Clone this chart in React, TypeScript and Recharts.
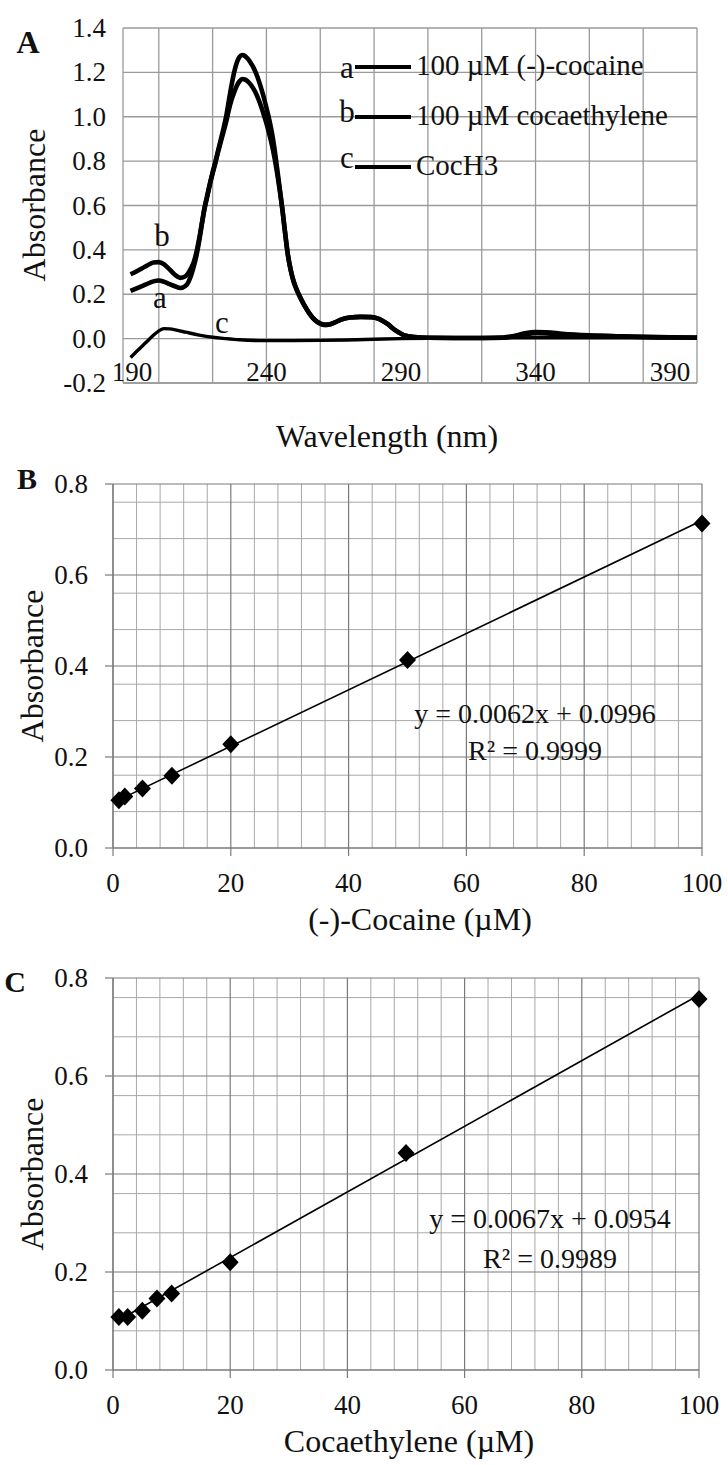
import React from 'react';
import { ComposedChart, LineChart, Line, XAxis, YAxis, CartesianGrid } from 'recharts';

const FONT = '"Liberation Serif", "Times New Roman", serif';
const INK = '#111';

// ---------- Panel A : UV spectra ----------
const wavelengthsAB = [189.5, 192, 195, 198, 200, 202, 204, 206, 208, 210, 212, 213, 214, 215, 216, 217, 218, 219, 220, 221, 222, 223, 224, 225, 226, 227, 228, 229, 230, 231, 232, 233, 234, 235, 236, 237, 238, 239, 240, 241, 242, 243, 244, 245, 246, 247, 248, 249, 250, 251, 252, 254, 256, 258, 260, 262, 264, 266, 268, 271, 275, 279, 282, 285, 288, 291, 295, 300, 310, 320, 328, 332, 336, 340, 344, 350, 360, 370, 380, 390, 400];
const absCocaine = [0.215, 0.228, 0.243, 0.258, 0.262, 0.256, 0.246, 0.236, 0.228, 0.238, 0.285, 0.325, 0.375, 0.44, 0.515, 0.585, 0.64, 0.695, 0.745, 0.79, 0.84, 0.885, 0.93, 0.975, 1.03, 1.075, 1.11, 1.14, 1.16, 1.17, 1.168, 1.16, 1.147, 1.13, 1.108, 1.08, 1.047, 1.01, 0.97, 0.925, 0.875, 0.815, 0.745, 0.665, 0.575, 0.47, 0.375, 0.31, 0.262, 0.228, 0.2, 0.152, 0.113, 0.084, 0.068, 0.062, 0.066, 0.076, 0.087, 0.095, 0.098, 0.097, 0.088, 0.066, 0.037, 0.016, 0.007, 0.004, 0.003, 0.003, 0.004, 0.01, 0.019, 0.024, 0.023, 0.018, 0.013, 0.01, 0.007, 0.005, 0.004];
const absCocaethylene = [0.29, 0.305, 0.325, 0.343, 0.345, 0.335, 0.312, 0.288, 0.274, 0.282, 0.318, 0.345, 0.39, 0.45, 0.52, 0.59, 0.645, 0.7, 0.75, 0.795, 0.845, 0.895, 0.945, 1.0, 1.07, 1.14, 1.2, 1.245, 1.27, 1.278, 1.274, 1.262, 1.246, 1.226, 1.2, 1.168, 1.13, 1.088, 1.04, 0.99, 0.93, 0.855, 0.765, 0.67, 0.575, 0.47, 0.375, 0.31, 0.262, 0.228, 0.2, 0.152, 0.113, 0.084, 0.068, 0.062, 0.066, 0.076, 0.087, 0.095, 0.098, 0.097, 0.088, 0.066, 0.037, 0.016, 0.007, 0.004, 0.003, 0.003, 0.005, 0.012, 0.024, 0.03, 0.029, 0.022, 0.015, 0.011, 0.008, 0.006, 0.005];
const wavelengthsCocH3 = [189.5, 192, 195, 198, 200, 202, 204, 207, 210, 215, 220, 225, 230, 240, 250, 260, 270, 280, 290, 300, 320, 340, 360, 380, 400];
const absCocH3 = [-0.085, -0.055, -0.02, 0.015, 0.035, 0.045, 0.044, 0.037, 0.029, 0.016, 0.006, 0.0, -0.005, -0.009, -0.009, -0.008, -0.006, -0.003, 0.0, 0.002, 0.003, 0.004, 0.004, 0.004, 0.004];
const aXTicks = [190, 240, 290, 340, 390];
const aYTicks = [-0.2, 0, 0.2, 0.4, 0.6, 0.8, 1.0, 1.2, 1.4];
const aGridX = [200, 210, 220, 230, 240, 250, 260, 270, 280, 290, 300, 310, 320, 330, 340, 350, 360, 370, 380, 390, 400];
const legendLabels = ['100 \u00b5M (-)-cocaine', '100 \u00b5M cocaethylene', 'CocH3'];
const legendLetters = ['a', 'b', 'c'];

// ---------- Panel B : (-)-cocaine calibration ----------
const cocaineConc = [1, 2, 5, 10, 20, 50, 100];
const cocaineAbs = [0.105, 0.113, 0.131, 0.159, 0.228, 0.413, 0.713];
const cocaineSlope = 0.0062;
const cocaineIntercept = 0.0996;

// ---------- Panel C : cocaethylene calibration ----------
const cocaethyleneConc = [1, 2.5, 5, 7.5, 10, 20, 50, 100];
const cocaethyleneAbs = [0.108, 0.108, 0.121, 0.146, 0.156, 0.22, 0.443, 0.757];
const cocaethyleneSlope = 0.0067;
const cocaethyleneIntercept = 0.0954;

// shared calibration axes
const calXTicks = [0, 20, 40, 60, 80, 100];
const calXMinor = [4, 8, 12, 16, 24, 28, 32, 36, 44, 48, 52, 56, 64, 68, 72, 76, 84, 88, 92, 96];
const calYTicks = [0, 0.2, 0.4, 0.6, 0.8];
const calYMinor = [0.04, 0.08, 0.12, 0.16, 0.24, 0.28, 0.32, 0.36, 0.44, 0.48, 0.52, 0.56, 0.64, 0.68, 0.72, 0.76];

const toPoints = (xs: number[], ys: number[]) => xs.map((x, i) => ({ x, y: ys[i] }));
const trend = (xs: number[], m: number, b: number) => {
  const lo = xs[0];
  const hi = xs[xs.length - 1];
  return [{ x: lo, y: m * lo + b }, { x: hi, y: m * hi + b }];
};

const seriesCocaine = toPoints(wavelengthsAB, absCocaine);
const seriesCocaethylene = toPoints(wavelengthsAB, absCocaethylene);
const seriesCocH3 = toPoints(wavelengthsCocH3, absCocH3);

const ptsB = toPoints(cocaineConc, cocaineAbs);
const trendB = trend(cocaineConc, cocaineSlope, cocaineIntercept);
const ptsC = toPoints(cocaethyleneConc, cocaethyleneAbs);
const trendC = trend(cocaethyleneConc, cocaethyleneSlope, cocaethyleneIntercept);

const TICK_FS = 27;

const XTickA = (props: any) => {
  const { x, y, payload } = props;
  return (
    <text x={x} y={y - 2} textAnchor="middle" fontFamily={FONT} fontSize={TICK_FS} fill={INK}>
      {payload.value}
    </text>
  );
};
const YTick = (props: any) => {
  const { x, y, payload } = props;
  return (
    <text x={x} y={y + 9} textAnchor="end" fontFamily={FONT} fontSize={TICK_FS} fill={INK}>
      {Number(payload.value).toFixed(1)}
    </text>
  );
};
const XTickCal = (props: any) => {
  const { x, y, payload } = props;
  return (
    <text x={x} y={y + 19} textAnchor="middle" fontFamily={FONT} fontSize={TICK_FS} fill={INK}>
      {payload.value}
    </text>
  );
};

const Diamond = (props: any) => {
  const { cx, cy } = props;
  if (cx == null || cy == null) return null;
  return <path d={`M${cx},${cy - 9} L${cx + 8.5},${cy} L${cx},${cy + 9} L${cx - 8.5},${cy} Z`} fill="#000" />;
};

const CalChart = ({ top, height, marginTop, marginRight, xAxisHeight, pts, tr }: any) => (
  <div style={{ position: 'absolute', left: 0, top }}>
    <ComposedChart width={728} height={height} margin={{ top: marginTop, right: marginRight, left: 0, bottom: 0 }}>
      <CartesianGrid horizontalValues={calYMinor} verticalValues={calXMinor} stroke="#a8a8a8" strokeWidth={1} />
      <CartesianGrid horizontalValues={calYTicks} verticalValues={calXTicks} stroke="#7a7a7a" strokeWidth={1.2} />
      <XAxis
        type="number"
        dataKey="x"
        domain={[0, 100]}
        ticks={calXTicks}
        height={xAxisHeight}
        tickSize={8}
        tickMargin={17}
        tick={XTickCal}
        axisLine={{ stroke: '#7a7a7a', strokeWidth: 1.2 }}
        tickLine={{ stroke: '#7a7a7a', strokeWidth: 1.2 }}
      />
      <YAxis
        type="number"
        domain={[0, 0.8]}
        ticks={calYTicks}
        width={113}
        tickSize={8}
        tickMargin={17}
        tick={YTick}
        axisLine={{ stroke: '#7a7a7a', strokeWidth: 1.2 }}
        tickLine={{ stroke: '#7a7a7a', strokeWidth: 1.2 }}
      />
      <Line data={tr} dataKey="y" type="linear" stroke="#000" strokeWidth={1.6} dot={false} isAnimationActive={false} />
      <Line data={pts} dataKey="y" type="linear" stroke="none" dot={<Diamond />} activeDot={false} isAnimationActive={false} />
    </ComposedChart>
  </div>
);

const T = (p: any) => <text fontFamily={FONT} fill={INK} {...p} />;

export default function App() {
  return (
    <div style={{ position: 'absolute', left: 0, top: 0, width: 728, height: 1465, background: '#fff', overflow: 'hidden' }}>
      {/* Panel A */}
      <div style={{ position: 'absolute', left: 0, top: 0 }}>
        <LineChart width={728} height={460} margin={{ top: 28, right: 31, left: 0, bottom: 0 }}>
          <CartesianGrid horizontalValues={aYTicks} verticalValues={aGridX} stroke="#9a9a9a" strokeWidth={1.3} />
          <XAxis
            type="number"
            dataKey="x"
            domain={[186.7, 400]}
            ticks={aXTicks}
            height={77}
            tickSize={0}
            tickMargin={0}
            tick={XTickA}
            axisLine={{ stroke: '#9a9a9a', strokeWidth: 1.3 }}
            tickLine={false}
            allowDataOverflow
          />
          <YAxis
            type="number"
            domain={[-0.2, 1.4]}
            ticks={aYTicks}
            width={123}
            tickSize={0}
            tickMargin={17}
            tick={YTick}
            axisLine={{ stroke: '#9a9a9a', strokeWidth: 1.3 }}
            tickLine={false}
            allowDataOverflow
          />
          <Line data={seriesCocH3} dataKey="y" type="monotone" stroke="#000" strokeWidth={3.4} dot={false} isAnimationActive={false} />
          <Line data={seriesCocaine} dataKey="y" type="monotone" stroke="#000" strokeWidth={4.6} dot={false} isAnimationActive={false} />
          <Line data={seriesCocaethylene} dataKey="y" type="monotone" stroke="#000" strokeWidth={4.6} dot={false} isAnimationActive={false} />
        </LineChart>
      </div>

      <CalChart top={460} height={440} marginTop={24} marginRight={26} xAxisHeight={52} pts={ptsB} tr={trendB} />
      <CalChart top={960} height={460} marginTop={18} marginRight={29} xAxisHeight={50} pts={ptsC} tr={trendC} />

      {/* text overlay */}
      <svg width={728} height={1465} style={{ position: 'absolute', left: 0, top: 0, pointerEvents: 'none' }}>
        {/* panel letters */}
        <T x={28} y={53} textAnchor="middle" fontSize={32} fontWeight="bold">A</T>
        <T x={27} y={489} textAnchor="middle" fontSize={30} fontWeight="bold">B</T>
        <T x={15} y={992} textAnchor="middle" fontSize={30} fontWeight="bold">C</T>

        {/* axis titles */}
        <T x={45} y={205} textAnchor="middle" fontSize={32} transform="rotate(-90 45 205)">Absorbance</T>
        <T x={43} y={666} textAnchor="middle" fontSize={32} transform="rotate(-90 43 666)">Absorbance</T>
        <T x={43} y={1174} textAnchor="middle" fontSize={32} transform="rotate(-90 43 1174)">Absorbance</T>
        <T x={387} y={447} textAnchor="middle" fontSize={32}>Wavelength (nm)</T>
        <T x={420} y={930} textAnchor="middle" fontSize={32}>(-)-Cocaine (µM)</T>
        <T x={409} y={1452} textAnchor="middle" fontSize={32}>Cocaethylene (µM)</T>

        {/* panel A legend */}
        {legendLabels.map((lab, i) => (
          <g key={lab}>
            <T x={347} y={[78, 122, 168][i]} textAnchor="middle" fontSize={31}>{legendLetters[i]}</T>
            <line x1={355} x2={411} y1={[67, 117, 167][i]} y2={[67, 117, 167][i]} stroke="#000" strokeWidth={4} />
            <T x={416} y={[75, 125, 175][i]} fontSize={29}>{lab}</T>
          </g>
        ))}

        {/* curve labels */}
        <T x={162} y={246} textAnchor="middle" fontSize={31}>b</T>
        <T x={160} y={308} textAnchor="middle" fontSize={31}>a</T>
        <T x={222} y={333} textAnchor="middle" fontSize={31}>c</T>

        {/* regression equations */}
        <T x={535} y={723} textAnchor="middle" fontSize={28}>y = 0.0062x + 0.0996</T>
        <T x={535} y={760} textAnchor="middle" fontSize={28}>R² = 0.9999</T>
        <T x={550} y={1228} textAnchor="middle" fontSize={28}>y = 0.0067x + 0.0954</T>
        <T x={550} y={1268} textAnchor="middle" fontSize={28}>R² = 0.9989</T>
      </svg>
    </div>
  );
}
